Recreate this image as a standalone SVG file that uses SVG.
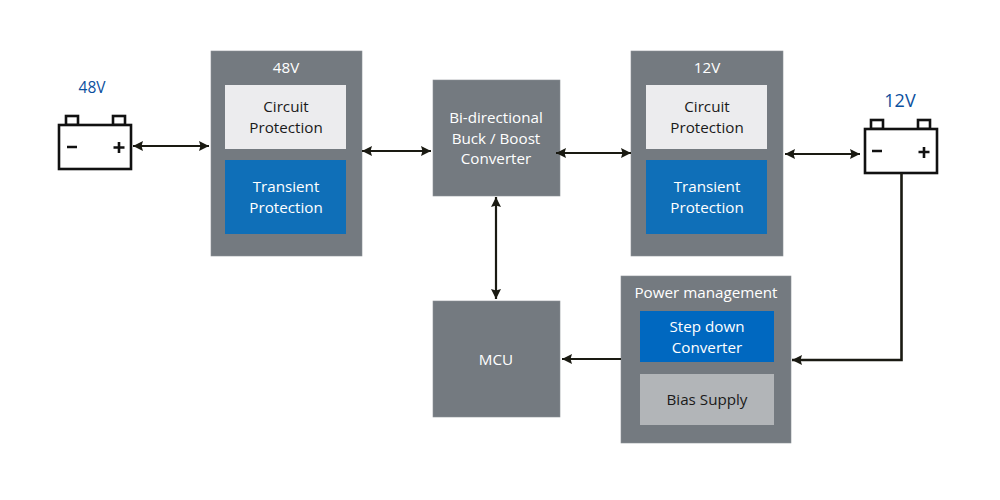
<svg xmlns="http://www.w3.org/2000/svg" width="1000" height="500" viewBox="0 0 1000 500">
<style>
text{font-family:"Open Sans","Noto Sans","Liberation Sans",sans-serif;font-size:15.2px;text-anchor:middle}
.w{fill:#fff}.k{fill:#1a1a1a}.v{fill:#0b4f9e;font-size:15.5px}
.v2{font-size:18px}
.g{fill:#747a80;stroke:#8b9095;stroke-width:.6}
.b{fill:#0f6fb8}.c{fill:#0068c0}.l{fill:#ececee}.s{fill:#b2b5b8}
.bat{fill:#fff;stroke:#111;stroke-width:2.6}
.sym{fill:none;stroke:#111;stroke-width:2.6}
.con{fill:none;stroke:#1a1a12;stroke-width:2.2}
</style>
<defs>
<marker id="a" viewBox="0 0 10 10" refX="10" refY="5" markerUnits="userSpaceOnUse" markerWidth="10" markerHeight="10" orient="auto-start-reverse"><path d="M0 0L10 5L0 10L1.500 5Z" fill="#1a1a12"/></marker>
</defs>
<g id="battery48">
<rect class="bat" x="66" y="116" width="12" height="9"/><rect class="bat" x="113" y="116" width="12" height="9"/>
<rect class="bat" x="59" y="125" width="72" height="44"/>
<path class="sym" d="M67 147H77M119 142V153M113.500 147.500H124.500"/>
<text class="v" x="92" y="93">48V</text>
</g>
<g id="protection48">
<rect class="g" x="211" y="51" width="151" height="205"/>
<text class="w" x="286" y="73">48V</text>
<rect class="l" x="225" y="85" width="121" height="64"/>
<text class="k" x="286" y="112">Circuit</text><text class="k" x="286" y="133">Protection</text>
<rect class="b" x="225" y="160" width="121" height="74"/>
<text class="w" x="286" y="192">Transient</text><text class="w" x="286" y="213">Protection</text>
</g>
<g id="converter">
<rect class="g" x="433" y="80" width="127" height="116"/>
<text class="w" x="496" y="123">Bi-directional</text><text class="w" x="496" y="144">Buck / Boost</text><text class="w" x="496" y="164">Converter</text>
</g>
<g id="protection12">
<rect class="g" x="631" y="51" width="152" height="205"/>
<text class="w" x="707" y="73">12V</text>
<rect class="l" x="646" y="85" width="121" height="64"/>
<text class="k" x="707" y="112">Circuit</text><text class="k" x="707" y="133">Protection</text>
<rect class="b" x="646" y="160" width="121" height="74"/>
<text class="w" x="707" y="192">Transient</text><text class="w" x="707" y="213">Protection</text>
</g>
<g id="battery12">
<rect class="bat" x="871" y="120" width="12" height="9"/><rect class="bat" x="918" y="120" width="12" height="9"/>
<rect class="bat" x="865" y="129" width="72" height="44"/>
<path class="sym" d="M872 151H882M924 147V158M918.500 152H929.500"/>
<text class="v v2" x="900" y="107">12V</text>
</g>
<g id="mcu">
<rect class="g" x="433" y="301" width="127" height="116"/>
<text class="w" x="496" y="365">MCU</text>
</g>
<g id="power">
<rect class="g" x="621" y="276" width="170" height="167"/>
<text class="w" x="706" y="298">Power management</text>
<rect class="c" x="640" y="311" width="134" height="51"/>
<text class="w" x="707" y="332">Step down</text><text class="w" x="707" y="353">Converter</text>
<rect class="s" x="640" y="374" width="134" height="51"/>
<text class="k" x="707" y="405">Bias Supply</text>
</g>
<g id="connectors">
<path class="con" d="M133 146H209" marker-start="url(#a)" marker-end="url(#a)"/>
<path class="con" d="M362 151H431" marker-start="url(#a)" marker-end="url(#a)"/>
<path class="con" d="M556 153H631" marker-start="url(#a)" marker-end="url(#a)"/>
<path class="con" d="M785 154H860" marker-start="url(#a)" marker-end="url(#a)"/>
<path class="con" d="M496 197V299" marker-start="url(#a)" marker-end="url(#a)"/>
<path class="con" d="M621 359H562" marker-end="url(#a)"/>
<path class="con" style="stroke-width:2.6" d="M901.500 173V360H792" marker-end="url(#a)"/>
</g>
</svg>
